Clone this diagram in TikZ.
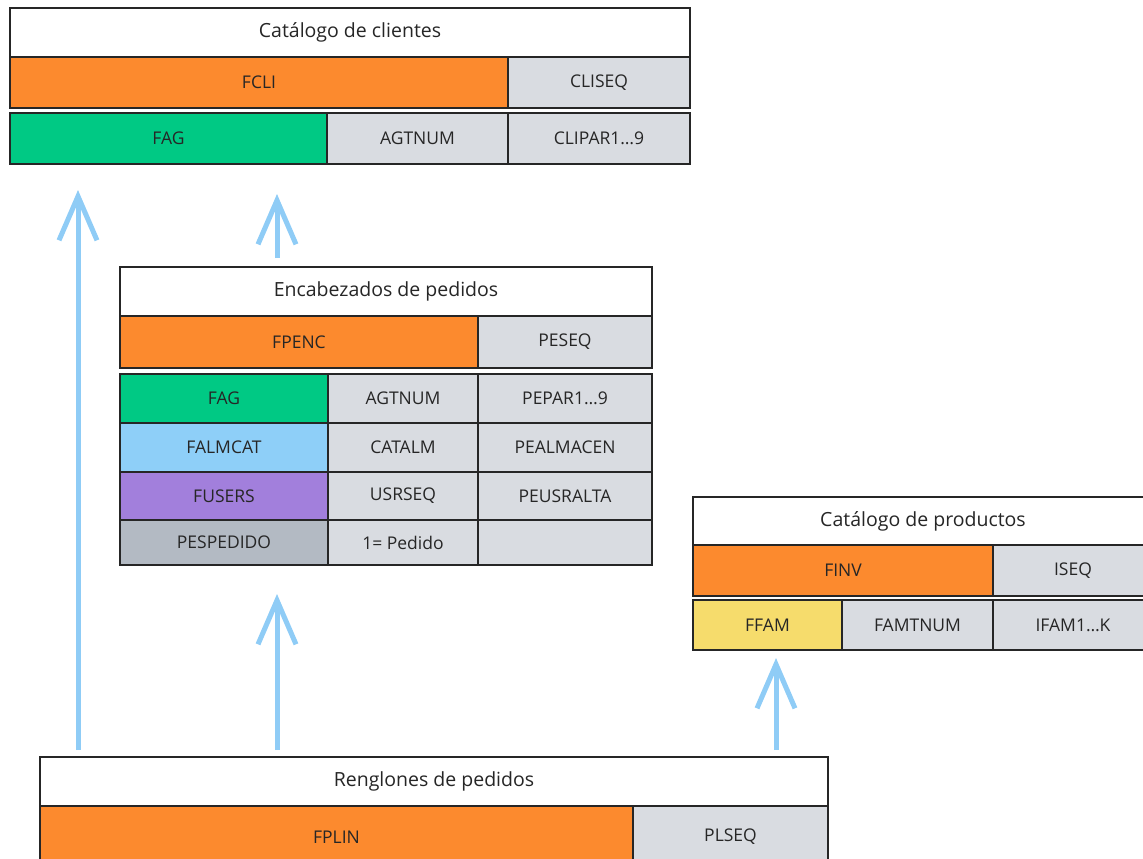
\documentclass[tikz,border=0pt]{standalone}
\usepackage{fontspec}
\setmainfont{Open Sans}
\usetikzlibrary{arrows.meta}
\definecolor{orng}{HTML}{FC8A2E}
\definecolor{grn}{HTML}{00C984}
\definecolor{lblue}{HTML}{8ECFF8}
\definecolor{purp}{HTML}{A27FDC}
\definecolor{lgray}{HTML}{D9DCE1}
\definecolor{dgray}{HTML}{B3BAC3}
\definecolor{ylw}{HTML}{F6DC6C}
\definecolor{arrc}{HTML}{8FCCF6}
\definecolor{txt}{HTML}{262626}
\tikzset{
  cell/.style={draw=black!85, line width=1.8pt, inner sep=0pt, outer sep=0pt,
    anchor=north west, font=\fontsize{17.5}{19}\selectfont, text=txt},
  title/.style={cell, fill=white, font=\fontsize{19.5}{21}\selectfont},
  arr/.style={draw=arrc, line width=5pt, -{Straight Barb[length=44pt,width=38pt]}}
}
\begin{document}
\begin{tikzpicture}[x=1pt,y=-1pt]
\useasboundingbox (0,0) rectangle (1143,859);
% Catalogo de clientes
\node[title,minimum width=680pt,minimum height=49pt] (cc) at (10,8) {Catálogo de clientes};
\node[cell,fill=orng,minimum width=498pt,minimum height=51pt] (fcli) at (10,57) {FCLI};
\node[cell,fill=lgray,minimum width=182pt,minimum height=51pt] (cliseq) at (508,57) {CLISEQ};
\node[cell,fill=grn,minimum width=317pt,minimum height=51pt] (fag1) at (10,113) {FAG};
\node[cell,fill=lgray,minimum width=181pt,minimum height=51pt] (agt1) at (327,113) {AGTNUM};
\node[cell,fill=lgray,minimum width=182pt,minimum height=51pt] (clipar) at (508,113) {CLIPAR1…9};
% Encabezados de pedidos
\node[title,minimum width=532pt,minimum height=49pt] (enc) at (120,267) {Encabezados de pedidos};
\node[cell,fill=orng,minimum width=358pt,minimum height=52pt] (fpenc) at (120,316) {FPENC};
\node[cell,fill=lgray,minimum width=174pt,minimum height=52pt] (peseq) at (478,316) {PESEQ};
\node[cell,fill=grn,minimum width=208pt,minimum height=49pt] (fag2) at (120,374) {FAG};
\node[cell,fill=lgray,minimum width=150pt,minimum height=49pt] (agt2) at (328,374) {AGTNUM};
\node[cell,fill=lgray,minimum width=174pt,minimum height=49pt] (pepar) at (478,374) {PEPAR1…9};
\node[cell,fill=lblue,minimum width=208pt,minimum height=49pt] (falm) at (120,423) {FALMCAT};
\node[cell,fill=lgray,minimum width=150pt,minimum height=49pt] (catalm) at (328,423) {CATALM};
\node[cell,fill=lgray,minimum width=174pt,minimum height=49pt] (pealm) at (478,423) {PEALMACEN};
\node[cell,fill=purp,minimum width=208pt,minimum height=48pt] (fusers) at (120,472) {FUSERS};
\node[cell,fill=lgray,minimum width=150pt,minimum height=48pt] (usrseq) at (328,472) {USRSEQ};
\node[cell,fill=lgray,minimum width=174pt,minimum height=48pt] (peusr) at (478,472) {PEUSRALTA};
\node[cell,fill=dgray,minimum width=208pt,minimum height=45pt] (pesp) at (120,520) {PESPEDIDO};
\node[cell,fill=lgray,minimum width=150pt,minimum height=45pt] (uno) at (328,520) {\raisebox{-4pt}{1= Pedido}};
\node[cell,fill=lgray,minimum width=174pt,minimum height=45pt] (empty) at (478,520) {};
% Catalogo de productos
\node[title,minimum width=460pt,minimum height=48pt] (cp) at (693,497) {Catálogo de productos};
\node[cell,fill=orng,minimum width=300pt,minimum height=51pt] (finv) at (693,545) {FINV};
\node[cell,fill=lgray,minimum width=160pt,minimum height=51pt] (iseq) at (993,545) {ISEQ};
\node[cell,fill=ylw,minimum width=149pt,minimum height=50pt] (ffam) at (693,600) {FFAM};
\node[cell,fill=lgray,minimum width=151pt,minimum height=50pt] (famt) at (842,600) {FAMTNUM};
\node[cell,fill=lgray,minimum width=160pt,minimum height=50pt] (ifam) at (993,600) {IFAM1…K};
% Renglones de pedidos
\node[title,minimum width=788pt,minimum height=49pt] (ren) at (40,757) {Renglones de pedidos};
\node[cell,fill=orng,minimum width=593pt,minimum height=62pt] (fplin) at (40,806) {FPLIN};
\node[cell,fill=lgray,minimum width=195pt,minimum height=62pt] (plseq) at (633,806) {PLSEQ};
% arrows
\coordinate (t1) at (78,190);
\coordinate (t2) at (277,194);
\coordinate (t3) at (277,594);
\coordinate (t4) at (776,658);
\draw[arr, shorten <=7pt] (t1 |- ren.north) -- (t1);
\draw[arr, shorten <=9pt] (t2 |- enc.north) -- (t2);
\draw[arr, shorten <=7pt] (t3 |- ren.north) -- (t3);
\draw[arr, shorten <=7pt] (t4 |- ren.north) -- (t4);
\end{tikzpicture}
\end{document}
